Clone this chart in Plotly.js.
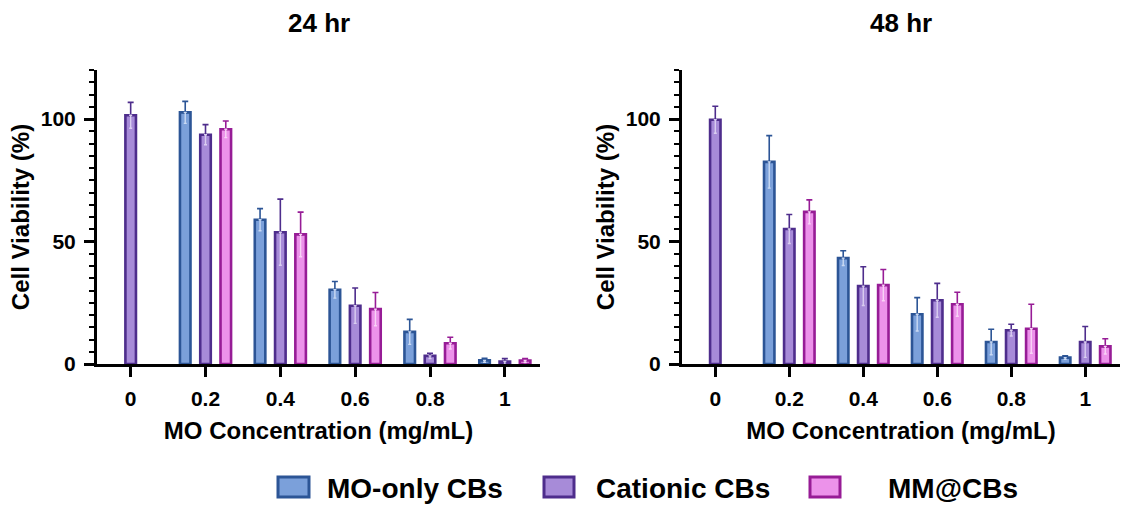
<!DOCTYPE html>
<html><head><meta charset="utf-8">
<script src="https://cdn.plot.ly/plotly-3.0.1.min.js"></script>
<style>html,body{margin:0;padding:0;background:#fff}#chart{width:1126px;height:508px}</style>
</head><body><div id="chart"></div>
<script>
const categories = ["0","0.2","0.4","0.6","0.8","1"];
const seriesNames = ["MO-only CBs","Cationic CBs","MM@CBs"];
const panelTitles = ["24 hr","48 hr"];
const yTickVals = [0,50,100];

const mo24 = [null,102.7,58.9,30.3,13.1,1.5];
const mo24Err = [null,4.5,4.5,3.4,5.1,0.8];
const cat24 = [101.5,93.6,53.8,23.8,3.3,1.0];
const cat24Err = [5.3,4.1,13.5,7.2,1.1,1.2];
const mm24 = [null,95.8,52.9,22.4,8.5,1.4];
const mm24Err = [null,3.4,9.1,6.8,2.4,0.8];

const mo48 = [null,82.5,43.2,20.3,9.0,2.6];
const mo48Err = [null,10.7,3.0,6.8,5.2,0.7];
const cat48 = [99.7,55.1,31.8,26.0,13.8,9.0];
const cat48Err = [5.5,5.9,7.9,6.9,2.4,6.3];
const mm48 = [null,62.1,32.2,24.4,14.4,7.2];
const mm48Err = [null,4.9,6.4,4.9,10.0,3.1];

const darkColors = ["#2c5596","#4e2d8c","#971c96"];
const fillColors = ["#7ba0da","#a78bd8","#ec92ea"];
const innerColors = ["#c9d9f3","#d9cdf0","#f8d2f6"];

const panels = [
  {vals:[mo24,cat24,mm24], errs:[mo24Err,cat24Err,mm24Err], xa:"x", ya:"y"},
  {vals:[mo48,cat48,mm48], errs:[mo48Err,cat48Err,mm48Err], xa:"x2", ya:"y2"}
];

const traces = [];
panels.forEach((p)=>{
  p.vals.forEach((v,i)=>{
    traces.push({
      type:"bar", x:categories, y:v, name:seriesNames[i], showlegend:false,
      xaxis:p.xa, yaxis:p.ya, offsetgroup:"g"+i,
      marker:{color:fillColors[i], line:{color:darkColors[i], width:2.6}},
      error_y:{type:"data", symmetric:false, array:p.errs[i], arrayminus:p.errs[i].map(()=>0),
               color:darkColors[i], thickness:1.6, width:3}
    });
  });
  p.vals.forEach((v,i)=>{
    traces.push({
      type:"bar", x:categories, y:v, showlegend:false, hoverinfo:"skip",
      xaxis:p.xa, yaxis:p.ya, offsetgroup:"g"+i,
      marker:{color:"rgba(0,0,0,0)", line:{width:0}},
      error_y:{type:"data", symmetric:false, array:p.errs[i].map(()=>0), arrayminus:p.errs[i],
               color:innerColors[i], thickness:1.4, width:1.5}
    });
  });
});

const W=1126, H=508, L=97, R=6, T=70, B=144;
const pw=W-L-R, ph=H-T-B;
const px=(x)=>(x-L)/pw, py=(y)=>(H-B-y)/ph;

const FAM = "Liberation Sans, Arial, sans-serif";
const fontAx = {family:FAM, size:24, color:"#000", weight:"bold"};
const tickFont = {family:FAM, size:21, color:"#000", weight:"bold"};

function xAxis(domain, anchor){
  return {domain:domain, anchor:anchor, type:"category", range:[-0.45,5.47],
    showline:true, linecolor:"#000", linewidth:3, ticks:"outside", ticklen:10, tickwidth:3, tickcolor:"#000",
    tickfont:tickFont, ticklabelstandoff:4, showgrid:false, zeroline:false, fixedrange:true,
    title:{text:"MO Concentration (mg/mL)", font:fontAx, standoff:13}};
}
function yAxis(anchor){
  return {domain:[0,1], anchor:anchor, range:[0,120], tickvals:yTickVals,
    showline:true, linecolor:"#000", linewidth:3, ticks:"outside", ticklen:10, tickwidth:3, tickcolor:"#000",
    minor:{dtick:5, tick0:0, ticks:"outside", ticklen:5, tickwidth:2, tickcolor:"#000", showgrid:false},
    tickfont:tickFont, ticklabelstandoff:4, showgrid:false, zeroline:false, fixedrange:true,
    title:{text:"Cell Viability (%)", font:fontAx, standoff:5}};
}

const shapes=[], annotations=[];
const dom1=[0,(540-L)/pw], dom2=[(682-L)/pw,1];
[dom1,dom2].forEach((d,k)=>{
  annotations.push({xref:"paper", yref:"paper", x:(d[0]+d[1])/2, y:py(23), xanchor:"center", yanchor:"middle",
    text:panelTitles[k], showarrow:false,
    font:{family:FAM, size:26, color:"#000", weight:"bold"}});
});
const legBoxes=[[278,309],[544,574],[810,840]];
const legText=[325,594,886];
seriesNames.forEach((n,i)=>{
  shapes.push({type:"rect", xref:"paper", yref:"paper", x0:px(legBoxes[i][0]), x1:px(legBoxes[i][1]),
    y0:py(497), y1:py(477), fillcolor:fillColors[i], line:{color:darkColors[i], width:3}});
  annotations.push({xref:"paper", yref:"paper", x:px(legText[i]), y:py(488), xanchor:"left", yanchor:"middle",
    text:n, showarrow:false,
    font:{family:FAM, size:28, color:"#000", weight:"bold"}});
});

const layout = {
  width:W, height:H, margin:{l:L, r:R, t:T, b:B}, paper_bgcolor:"#fff", plot_bgcolor:"#fff",
  barmode:"group", bargap:0.187, bargroupgap:0.48, showlegend:false,
  xaxis:xAxis(dom1,"y"), yaxis:yAxis("x"),
  xaxis2:xAxis(dom2,"y2"), yaxis2:yAxis("x2"),
  shapes:shapes, annotations:annotations
};
Plotly.newPlot("chart", traces, layout, {displayModeBar:false, staticPlot:true});
</script></body></html>
